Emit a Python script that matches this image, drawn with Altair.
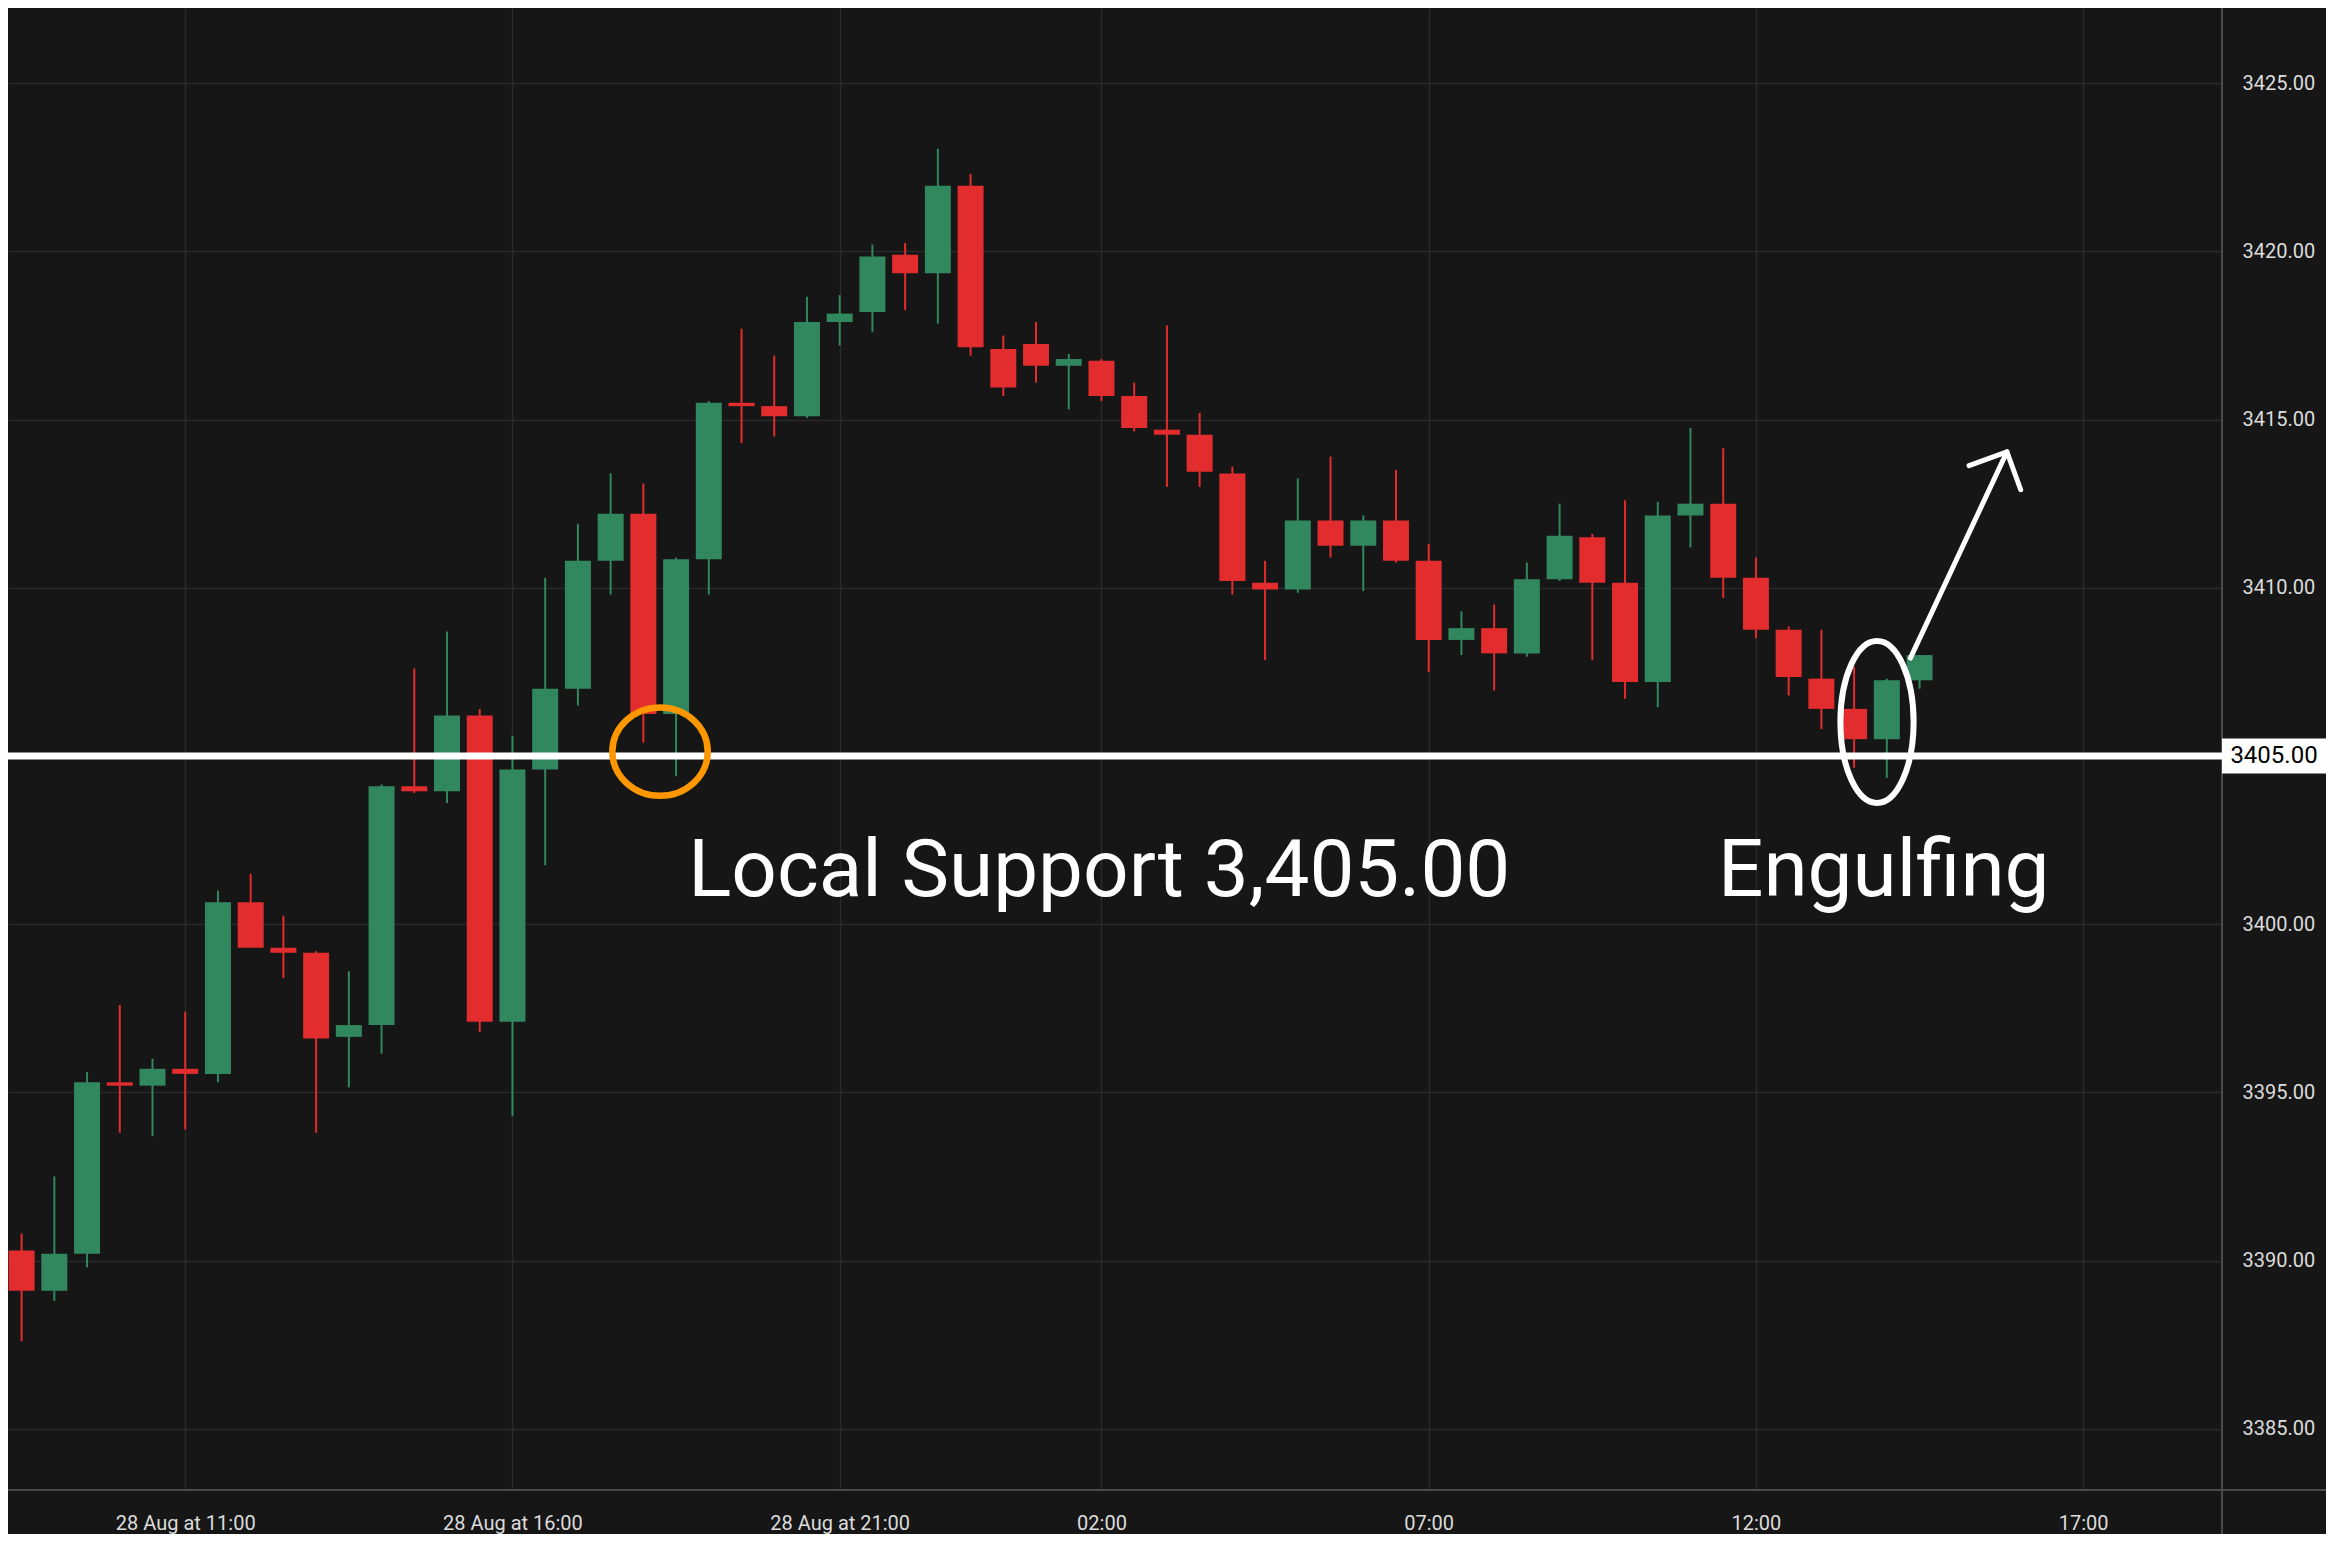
import altair as alt
import pandas as pd

# ---- 30-minute candles, index 0 = 28 Aug 08:30 (one-hour market break overnight) ----
opens = [3390.3, 3389.1, 3390.2, 3395.3, 3395.2, 3395.7, 3395.55, 3400.65, 3399.3, 3399.15,
         3396.65, 3397.0, 3404.1, 3403.95, 3406.2, 3397.1, 3404.6, 3407.0, 3410.8, 3412.2,
         3406.25, 3410.85, 3415.5, 3415.4, 3415.1, 3417.9, 3418.2, 3419.9, 3419.35, 3421.95,
         3417.1, 3417.25, 3416.6, 3416.75, 3415.7, 3414.7, 3414.55, 3413.4, 3410.15, 3409.95,
         3412.0, 3411.25, 3412.0, 3410.8, 3408.45, 3408.8, 3408.05, 3410.25, 3411.5, 3410.15,
         3407.2, 3412.15, 3412.5, 3410.3, 3408.75, 3407.3, 3406.4, 3405.5, 3407.25]
highs = [3390.8, 3392.5, 3395.6, 3397.6, 3396.0, 3397.4, 3401.0, 3401.5, 3400.25, 3399.2,
         3398.6, 3404.15, 3407.6, 3408.7, 3406.4, 3405.6, 3410.3, 3411.9, 3413.4, 3413.1,
         3410.9, 3415.55, 3417.7, 3416.9, 3418.65, 3418.7, 3420.2, 3420.25, 3423.05, 3422.3,
         3417.5, 3417.9, 3416.95, 3416.8, 3416.1, 3417.8, 3415.2, 3413.6, 3410.8, 3413.25,
         3413.9, 3412.15, 3413.5, 3411.3, 3409.3, 3409.5, 3410.75, 3412.5, 3411.6, 3412.6,
         3412.55, 3414.75, 3414.15, 3410.9, 3408.85, 3408.75, 3407.65, 3407.3, 3408.0]
lows = [3387.6, 3388.8, 3389.8, 3393.8, 3393.7, 3393.9, 3395.3, 3399.3, 3398.4, 3393.8,
        3395.15, 3396.15, 3403.9, 3403.6, 3396.8, 3394.3, 3401.75, 3406.5, 3409.8, 3405.4,
        3404.4, 3409.8, 3414.3, 3414.5, 3415.05, 3417.2, 3417.6, 3418.25, 3417.85, 3416.9,
        3415.7, 3416.1, 3415.3, 3415.55, 3414.65, 3413.0, 3413.0, 3409.8, 3407.85, 3409.85,
        3410.9, 3409.9, 3410.75, 3407.5, 3408.0, 3406.95, 3407.95, 3410.2, 3407.85, 3406.7,
        3406.45, 3411.2, 3409.7, 3408.5, 3406.8, 3405.8, 3404.65, 3404.35, 3407.0]
closes = [3389.1, 3390.2, 3395.3, 3395.2, 3395.7, 3395.55, 3400.65, 3399.3, 3399.15, 3396.6,
          3397.0, 3404.1, 3403.95, 3406.2, 3397.1, 3404.6, 3407.0, 3410.8, 3412.2, 3406.25,
          3410.85, 3415.5, 3415.4, 3415.1, 3417.9, 3418.15, 3419.85, 3419.35, 3421.95, 3417.15,
          3415.95, 3416.6, 3416.8, 3415.7, 3414.75, 3414.55, 3413.45, 3410.2, 3409.95, 3412.0,
          3411.25, 3412.0, 3410.8, 3408.45, 3408.8, 3408.05, 3410.25, 3411.55, 3410.15, 3407.2,
          3412.15, 3412.5, 3410.3, 3408.75, 3407.35, 3406.4, 3405.5, 3407.25, 3408.0]

x_tick_idx = [5, 15, 25, 33, 43, 53, 63]
x_tick_labels = ["28 Aug at 11:00", "28 Aug at 16:00", "28 Aug at 21:00",
                 "02:00", "07:00", "12:00", "17:00"]
y_ticks = [3385, 3390, 3395, 3400, 3405, 3410, 3415, 3420, 3425]

support_level = 3405.00
support_text = f"Local Support {support_level:,.2f}"
pattern_text = "Engulfing"

# annotation anchors in data coordinates (candle index, price)
orange_ring = (19.51, 3405.13)
engulf_ring = (56.70, 3406.01)
arrow_start = (57.72, 3407.91)
arrow_tip = (60.67, 3414.04)
support_label_at = (20.37, 3400.84)
pattern_label_at = (51.84, 3400.84)

# ---- layout / style ----
W, H = 2214, 1482
PAD_R, PAD_B = 104, 44
X_DOM = [-0.263, 67.09]
Y_DOM = [3383.18, 3427.235]
BG = "#161616"
GREEN = "#31885e"
RED = "#e22c2d"
ORANGE = "#ff9800"
LABEL = "#dcdcdc"
AXLINE = "#4a4a4a"
FONT = "Roboto"

df = pd.DataFrame({
    "idx": list(range(len(opens))),
    "open": opens, "high": highs, "low": lows, "close": closes,
})
one = pd.DataFrame({"k": [0]})

xscale = alt.Scale(domain=X_DOM, nice=False, zero=False)
yscale = alt.Scale(domain=Y_DOM, nice=False, zero=False)

x_label_expr = "".join(
    f"datum.value == {v} ? '{t}' : " for v, t in zip(x_tick_idx, x_tick_labels)
) + "''"
# the support level's own label sits in the white price box instead
y_label_expr = f"datum.value == {support_level} ? '' : format(datum.value, '.2f')"

x_axis = alt.Axis(values=x_tick_idx, labelExpr=x_label_expr, title=None, grid=True,
                  ticks=False, tickSize=0, domain=False, labelPadding=23,
                  labelFlush=False, labelOverlap=False, orient="bottom")
y_axis = alt.Axis(values=y_ticks, labelExpr=y_label_expr, title=None, grid=True,
                  ticks=False, tickSize=0, domain=False, orient="right", labelPadding=20,
                  labelAlign="left", labelBaseline="middle")


def XD(v):
    return alt.XDatum(v, scale=xscale, axis=x_axis)


def YD(v):
    return alt.YDatum(v, scale=yscale, axis=y_axis)


candle_color = alt.when(alt.datum.close >= alt.datum.open).then(
    alt.value(GREEN)).otherwise(alt.value(RED))

wicks = alt.Chart(df).mark_rule(strokeWidth=2).encode(
    x=alt.X("idx:Q", scale=xscale, axis=x_axis),
    y=alt.Y("low:Q", scale=yscale, axis=y_axis),
    y2="high:Q",
    color=candle_color,
)
bodies = alt.Chart(df).mark_bar(size=26).encode(
    x=alt.X("idx:Q", scale=xscale, axis=x_axis),
    y=alt.Y("open:Q", scale=yscale, axis=y_axis),
    y2="close:Q",
    color=candle_color,
)

# axis lines running across the whole canvas
h_axis_line = alt.Chart(one).mark_rule(color=AXLINE, strokeWidth=2).encode(
    x=alt.value(0), x2=alt.value(W + PAD_R), y=alt.value(H))
v_axis_line = alt.Chart(one).mark_rule(color=AXLINE, strokeWidth=2).encode(
    x=alt.value(W), y=alt.value(0), y2=alt.value(H + PAD_B))

support_line = alt.Chart(one).mark_rule(color="white", strokeWidth=7).encode(
    y=YD(support_level))

px_per_unit = H / (Y_DOM[1] - Y_DOM[0])
half_box = 17.5 / px_per_unit
price_box = alt.Chart(one).mark_rect(color="white").encode(
    x=alt.value(W), x2=alt.value(W + PAD_R),
    y=YD(support_level + half_box),
    y2=alt.Y2Datum(support_level - half_box),
)
price_text = alt.Chart(one).mark_text(
    text=f"{support_level:.2f}", font=FONT, fontSize=24, color="black",
    align="center", baseline="middle").encode(
    x=alt.value(W + PAD_R / 2), y=YD(support_level))

ring_path = "M -1 0 A 1 0.927 0 1 1 1 0 A 1 0.927 0 1 1 -1 0 Z"
orange_circle = alt.Chart(one).mark_point(
    shape=ring_path, size=95.4 ** 2, filled=False, stroke=ORANGE, strokeWidth=6.5,
    opacity=1).encode(x=XD(orange_ring[0]), y=YD(orange_ring[1]))

ellipse_path = "M 0 -1 A 0.452 1 0 1 1 0 1 A 0.452 1 0 1 1 0 -1 Z"
white_ellipse = alt.Chart(one).mark_point(
    shape=ellipse_path, size=162 ** 2, filled=False, stroke="white", strokeWidth=6,
    opacity=1).encode(x=XD(engulf_ring[0]), y=YD(engulf_ring[1]))

arrow_shaft = alt.Chart(one).mark_rule(color="white", strokeWidth=5, strokeCap="round").encode(
    x=XD(arrow_start[0]), x2=alt.X2Datum(arrow_tip[0]),
    y=YD(arrow_start[1]), y2=alt.Y2Datum(arrow_tip[1]),
)
arrow_head = alt.Chart(one).mark_point(
    shape="M -1 1 L 0 0 L 1 1", size=57 ** 2, angle=25, filled=False, stroke="white",
    strokeWidth=5, strokeCap="round", strokeJoin="round", opacity=1).encode(
    x=XD(arrow_tip[0]), y=YD(arrow_tip[1]))

support_label = alt.Chart(one).mark_text(
    text=support_text, font=FONT, fontSize=80, color="white",
    align="left", baseline="alphabetic").encode(
    x=XD(support_label_at[0]), y=YD(support_label_at[1]))
pattern_label = alt.Chart(one).mark_text(
    text=pattern_text, font=FONT, fontSize=80, color="white",
    align="left", baseline="alphabetic").encode(
    x=XD(pattern_label_at[0]), y=YD(pattern_label_at[1]))

chart = alt.layer(
    wicks, bodies, h_axis_line, v_axis_line, support_line, price_box, price_text,
    orange_circle, white_ellipse, arrow_shaft, arrow_head, support_label, pattern_label,
).properties(
    width=W, height=H,
    autosize=alt.AutoSizeParams(type="none"),
    padding={"left": 0, "top": 0, "right": PAD_R, "bottom": PAD_B},
).configure(
    background=BG,
).configure_view(
    strokeWidth=0,
).configure_axis(
    labelFont=FONT, labelFontSize=20, labelColor=LABEL,
    gridColor="#2a2a2a", gridWidth=1.5,
)

chart.save("out.html", embed_options={"renderer": "svg", "actions": False})
